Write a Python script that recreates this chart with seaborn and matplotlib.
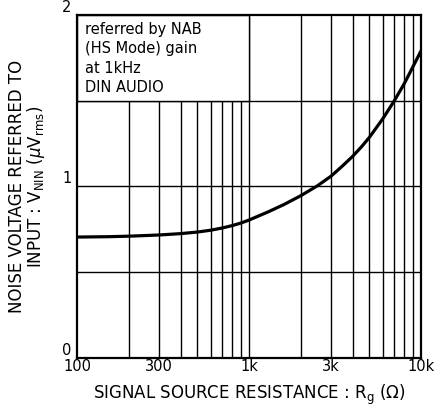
import matplotlib
matplotlib.use("Agg")
import matplotlib.pyplot as plt
import seaborn as sns
import pandas as pd
from matplotlib.patches import Rectangle
from matplotlib.ticker import FixedLocator, NullFormatter

sns.set_theme(style="white")
plt.rcParams['font.family'] = ['DejaVu Sans']

resistance = [100, 150, 200, 300, 400, 500, 600, 700, 800, 900, 1000, 1300, 1600,
              2000, 2500, 3000, 3500, 4000, 4500, 5000, 6000, 7000, 8000, 9000, 10000]
noise = [0.705, 0.707, 0.71, 0.717, 0.725, 0.734, 0.745, 0.758, 0.772, 0.787, 0.804,
         0.853, 0.895, 0.946, 1.004, 1.06, 1.12, 1.175, 1.23, 1.285, 1.395, 1.50, 1.60,
         1.70, 1.79]
xtick_vals = [100, 300, 1000, 3000, 10000]
xtick_labels = ["100", "300", "1k", "3k", "10k"]
ytick_vals = [0, 1, 2]
ytick_labels = ["0", "1", "2"]
ygrid_vals = [0.5, 1.0, 1.5]
xgrid_vals = [200, 300, 400, 500, 600, 700, 800, 900, 1000, 2000, 3000, 4000,
              5000, 6000, 7000, 8000, 9000]
box_lines = ["referred by NAB", "(HS Mode) gain", "at 1kHz", "DIN AUDIO"]

df = pd.DataFrame({"R": resistance, "V": noise})

fig = plt.figure(figsize=(4.36, 4.07), dpi=100)
ax = fig.add_axes([0.1766, 0.1204, 0.789, 0.843])

ax.set_xscale("log")
ax.set_xlim(100, 10000)
ax.set_ylim(0, 2)

for xv in xgrid_vals:
    ax.axvline(xv, color="black", lw=1.0, zorder=1)
for yv in ygrid_vals:
    ax.axhline(yv, color="black", lw=1.0, zorder=1)

sns.lineplot(data=df, x="R", y="V", ax=ax, color="black", lw=2.3, zorder=3)

# annotation box covering the upper-left region
ax.add_patch(Rectangle((100, 1.5), 900, 0.5, facecolor="white", edgecolor="black",
                       lw=1.0, zorder=2))
for i, line in enumerate(box_lines):
    ax.text(0.022, 0.978 - i * 0.0555, line, transform=ax.transAxes, fontsize=10.5,
            va="top", ha="left", color="black", zorder=4)

ax.set_xticks(xtick_vals)
ax.set_xticklabels(xtick_labels)
ax.xaxis.set_minor_locator(FixedLocator([]))
ax.xaxis.set_minor_formatter(NullFormatter())
ax.set_yticks(ytick_vals)
ax.set_yticklabels(ytick_labels)
ax.tick_params(axis="both", length=0, labelsize=10.5, colors="black")
ax.tick_params(axis="x", pad=1)
ax.tick_params(axis="y", pad=4)
for lab in ax.get_yticklabels():
    lab.set_verticalalignment("bottom")

for s in ax.spines.values():
    s.set_color("black")
    s.set_linewidth(1.6)
    s.set_visible(True)

ax.set_xlabel(r"SIGNAL SOURCE RESISTANCE : R$_{\mathrm{g}}$ ($\Omega$)", fontsize=12,
              color="black", labelpad=6)
ax.set_ylabel("NOISE VOLTAGE REFERRED TO\n" + r"INPUT : V$_{\mathrm{NIN}}$ ($\mu$V$_{\mathrm{rms}}$)",
              fontsize=12, color="black", labelpad=11, linespacing=0.95)

fig.savefig("out.png", dpi=100, facecolor="white")
